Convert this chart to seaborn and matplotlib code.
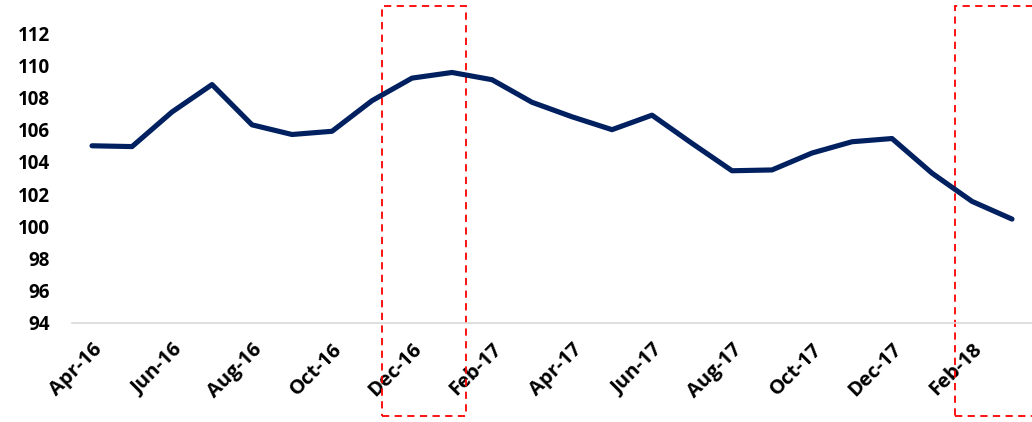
import matplotlib
matplotlib.use("Agg")
import matplotlib.pyplot as plt
from matplotlib.patches import Rectangle
import pandas as pd
import seaborn as sns

# Monthly index values, Apr-16 .. Mar-18
months = ["Apr-16", "May-16", "Jun-16", "Jul-16", "Aug-16", "Sep-16", "Oct-16", "Nov-16",
          "Dec-16", "Jan-17", "Feb-17", "Mar-17", "Apr-17", "May-17", "Jun-17", "Jul-17",
          "Aug-17", "Sep-17", "Oct-17", "Nov-17", "Dec-17", "Jan-18", "Feb-18", "Mar-18"]
values = [105.0, 104.95, 107.1, 108.8, 106.3, 105.7, 105.9, 107.8,
          109.2, 109.55, 109.1, 107.7, 106.8, 106.0, 106.9, 105.15,
          103.45, 103.5, 104.55, 105.25, 105.45, 103.3, 101.55, 100.45]
y_ticks = [94, 96, 98, 100, 102, 104, 106, 108, 110, 112]

df = pd.DataFrame({"month": months, "value": values})
df["pos"] = range(len(df))

sns.set_theme(style="white")
plt.rcParams["font.family"] = ["Open Sans", "DejaVu Sans"]

fig = plt.figure(figsize=(10.32, 4.22), dpi=100)
ax = fig.add_axes([0.0698, 0.2346, 0.9302, 0.6872])

sns.lineplot(data=df, x="pos", y="value", ax=ax, color="#002060", linewidth=3.7,
             solid_joinstyle="round", solid_capstyle="round")

ax.set_xlim(-0.5, len(months) - 0.5)
ax.set_ylim(94, 112)
ax.set_yticks(y_ticks)
ax.set_yticklabels([str(t) for t in y_ticks], fontsize=13.5, fontweight="bold", color="black")
ax.set_xticks(df["pos"][::2])
ax.set_xticklabels(df["month"][::2], rotation=45, ha="right", rotation_mode="anchor",
                   fontsize=14.5, fontweight="bold", color="black")
ax.tick_params(axis="both", length=0)
ax.tick_params(axis="y", pad=16)
ax.tick_params(axis="x", pad=12)
ax.set_xlabel("")
ax.set_ylabel("")

for side in ["top", "right", "left"]:
    ax.spines[side].set_visible(False)
ax.spines["bottom"].set_color("#d9d9d9")
ax.spines["bottom"].set_linewidth(1.2)

# Highlight boxes (red dashed), extending beyond the plot area
trans = ax.get_xaxis_transform()
for x0, x1 in [(7.25, 9.35), (21.58, 24.2)]:
    ax.add_patch(Rectangle((x0, -0.322), x1 - x0, 1.414, transform=trans, fill=False,
                           edgecolor="#ff0000", linewidth=1.3, linestyle=(0, (4, 3)),
                           clip_on=False))

fig.savefig("out.png", dpi=100)
